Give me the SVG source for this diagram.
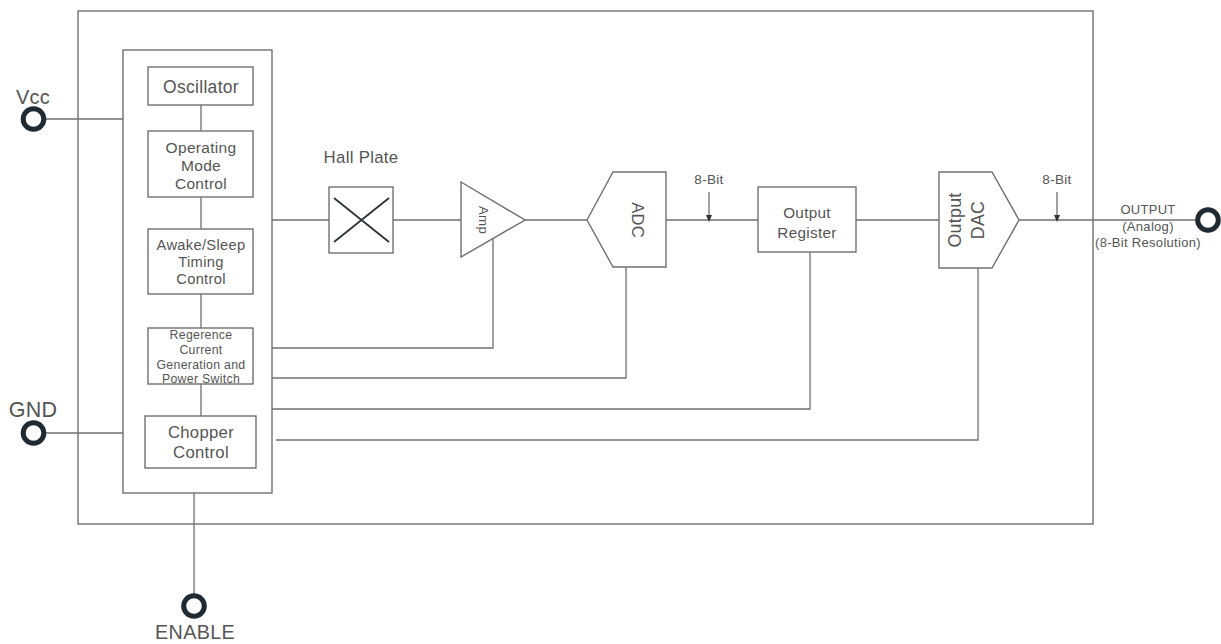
<svg xmlns="http://www.w3.org/2000/svg" width="1221" height="644" viewBox="0 0 1221 644">
<style>
.s{fill:#fff;stroke:#707070;stroke-width:1.4}
.l{fill:none;stroke:#707070;stroke-width:1.3}
.p{fill:#fff;stroke:#1f2a33;stroke-width:5}
text{font-family:"Liberation Sans","DejaVu Sans",sans-serif;fill:#555;text-anchor:middle;letter-spacing:.3px}
.pin{font-size:21.5px}.vcc{font-size:20px}
.b{font-size:13px}
</style>
<g id="frame"><rect class="s" x="78" y="11" width="1015" height="513"/></g>
<g id="control-block"><rect class="s" x="123" y="50" width="149" height="443"/></g>
<g id="connectors">
<path class="l" d="M34 119H123M34 433H123M194 493V606"/>
<path class="l" d="M201 105V131M201 197V229M201 294V328M201 384V416"/>
<path class="l" d="M272 220H329M393 220H461M525 220H587M666 220H758M856 220H939M1019 220H1207"/>
<path class="l" d="M272 348H493V238M272 378H626V267M272 409H810V252M276 440H978V268"/>
<path class="l" d="M709 192V217M1057 192V217"/>
<path d="M706 215H712L709 222Z M1054 215H1060L1057 222Z" fill="#333"/>
</g>
<g id="oscillator"><rect class="s" x="148" y="67" width="105" height="38"/><text font-size="17.5" x="201" y="93">Oscillator</text></g>
<g id="mode-control"><rect class="s" x="148" y="131" width="105" height="66"/><text font-size="15.5"><tspan x="201" y="153">Operating</tspan><tspan x="201" y="171">Mode</tspan><tspan x="201" y="189">Control</tspan></text></g>
<g id="timing-control"><rect class="s" x="148" y="229" width="105" height="65"/><text font-size="14.7"><tspan x="201" y="250">Awake/Sleep</tspan><tspan x="201" y="267">Timing</tspan><tspan x="201" y="284">Control</tspan></text></g>
<g id="reference"><rect class="s" x="148" y="328" width="105" height="56"/><text font-size="12.3"><tspan x="201" y="339">Regerence</tspan><tspan x="201" y="354">Current</tspan><tspan x="201" y="368.500">Generation and</tspan><tspan x="201" y="382.500">Power Switch</tspan></text></g>
<g id="chopper"><rect class="s" x="145" y="416" width="111" height="52"/><text font-size="16.7"><tspan x="201" y="438">Chopper</tspan><tspan x="201" y="458">Control</tspan></text></g>
<g id="hall-plate"><text font-size="16.8" x="361" y="163">Hall Plate</text><rect class="s" x="329" y="187" width="64" height="66"/><path d="M334 198L389 242M389 198L334 242" fill="none" stroke="#2b3238" stroke-width="1.8"/></g>
<g id="amp"><path class="s" d="M461 182L525 220L461 257Z"/><text font-size="13.3" transform="translate(483 220) rotate(90)" dy="4">Amp</text></g>
<g id="adc"><path class="s" d="M587 220L613 172H666V267H613Z"/><text font-size="16.5" transform="translate(638 220) rotate(90)" dy="6">ADC</text></g>
<g id="register"><rect class="s" x="758" y="187" width="98" height="65"/><text font-size="15.3"><tspan x="807" y="218">Output</tspan><tspan x="807" y="238">Register</tspan></text></g>
<g id="dac"><path class="s" d="M939 172H992L1019 220L992 268H939Z"/><g font-size="17.8"><text transform="translate(955 220) rotate(-90)" dy="6">Output</text><text transform="translate(978 220) rotate(-90)" dy="6">DAC</text></g></g>
<g id="labels"><text font-size="13.5" x="709" y="184">8-Bit</text><text font-size="13.5" x="1057" y="184">8-Bit</text><text class="b"><tspan x="1148" y="214">OUTPUT</tspan><tspan x="1148" y="231">(Analog)</tspan><tspan x="1148" y="246.500">(8-Bit Resolution)</tspan></text></g>
<g id="vcc"><circle class="p" cx="33.500" cy="119" r="10.300"/><text class="vcc" x="33" y="104">Vcc</text></g>
<g id="gnd"><circle class="p" cx="33.500" cy="433" r="10.300"/><text class="pin" x="33" y="417">GND</text></g>
<g id="enable"><circle class="p" cx="194" cy="606" r="10.300"/><text font-size="19.800" x="195" y="639">ENABLE</text></g>
<g id="output"><circle class="p" cx="1208" cy="220" r="10.300"/></g>
</svg>
